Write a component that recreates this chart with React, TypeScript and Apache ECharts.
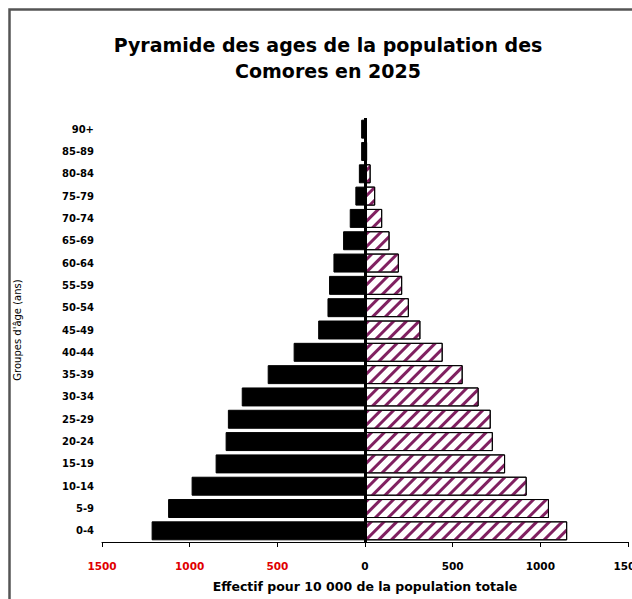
import React, { useEffect, useRef } from "react";
import * as echarts from "echarts";

const categories = ["0-4", "5-9", "10-14", "15-19", "20-24", "25-29", "30-34", "35-39", "40-44", "45-49", "50-54", "55-59", "60-64", "65-69", "70-74", "75-79", "80-84", "85-89", "90+"];
const maleValues = [1217, 1123, 989, 852, 795, 782, 703, 555, 407, 267, 214, 205, 180, 125, 87, 55, 35, 22, 22];
const femaleValues = [1153, 1049, 922, 799, 729, 717, 648, 557, 443, 316, 250, 212, 193, 140, 98, 58, 32, 12, 8];
const xTicks = [-1500, -1000, -500, 0, 500, 1000, 1500];

const titleText = "Pyramide des ages de la population des\nComores en 2025";
const xName = "Effectif pour 10 000 de la population totale";
const yName = "Groupes d'âge (ans)";

export default function App() {
  const ref = useRef<HTMLDivElement>(null);
  useEffect(() => {
    document.body.style.margin = "0";
    document.body.style.overflow = "hidden";
    const chart = echarts.init(ref.current!, null, { renderer: "svg" });
    const font = "DejaVu Sans";
    chart.setOption({
      animation: false,
      backgroundColor: "#ffffff",
      title: {
        text: titleText,
        left: 323,
        textAlign: "center",
        top: 27,
        textStyle: { fontFamily: font, fontWeight: "bold", fontSize: 19, color: "#000", lineHeight: 26 },
      },
      graphic: [
        {
          type: "rect",
          shape: { x: 9.5, y: 9.5, width: 800, height: 800 },
          style: { fill: "none", stroke: "#555", lineWidth: 2.5 },
          silent: true,
        },
      ],
      grid: { left: 102, width: 526, top: 118, height: 424, outerBoundsMode: "none", containLabel: false },
      xAxis: {
        type: "value",
        min: xTicks[0],
        max: xTicks[xTicks.length - 1],
        interval: 500,
        splitLine: { show: false },
        axisLine: { show: true, lineStyle: { color: "#000", width: 1 } },
        axisTick: { show: true, length: 5, lineStyle: { color: "#000" } },
        axisLabel: {
          margin: 18,
          fontFamily: font,
          fontWeight: "bold",
          fontSize: 10.5,
          formatter: (v: number) => String(Math.abs(v)),
          color: (v: any) => (Number(v) < 0 ? "#e00000" : "#000"),
        },
        name: xName,
        nameLocation: "middle",
        nameGap: 38,
        nameTextStyle: { fontFamily: font, fontWeight: "bold", fontSize: 12.5, color: "#000" },
      },
      yAxis: {
        type: "category",
        data: categories,
        axisLine: { show: false, onZero: false },
        axisTick: { show: false },
        axisLabel: { margin: 8, fontFamily: font, fontWeight: "bold", fontSize: 10, color: "#000" },
        name: yName,
        nameLocation: "middle",
        nameRotate: 90,
        nameGap: 80,
        nameTextStyle: { fontFamily: font, fontSize: 10, color: "#000" },
      },
      series: [
        {
          name: "Hommes",
          type: "bar",
          data: maleValues.map((v) => -v),
          barWidth: "85%",
          barGap: "-100%",
          itemStyle: { color: "#000", borderColor: "#000", borderWidth: 1 },
        },
        {
          name: "Femmes",
          type: "bar",
          data: femaleValues,
          barWidth: "85%",
          barGap: "-100%",
          itemStyle: {
            color: "#ffffff",
            borderColor: "#000",
            borderWidth: 1,
            decal: {
              symbol: "rect",
              symbolSize: 1,
              color: "#802060",
              dashArrayX: [1, 0],
              dashArrayY: [3, 5.5],
              rotation: -Math.PI / 4,
            },
          },
          markLine: {
            silent: true,
            symbol: ["none", "none"],
            label: { show: false },
            lineStyle: { color: "#000", width: 3, type: "solid" },
            data: [{ xAxis: 0 }],
          },
        },
      ],
    });
    return () => chart.dispose();
  }, []);
  return <div ref={ref} style={{ width: 632, height: 599 }} />;
}
